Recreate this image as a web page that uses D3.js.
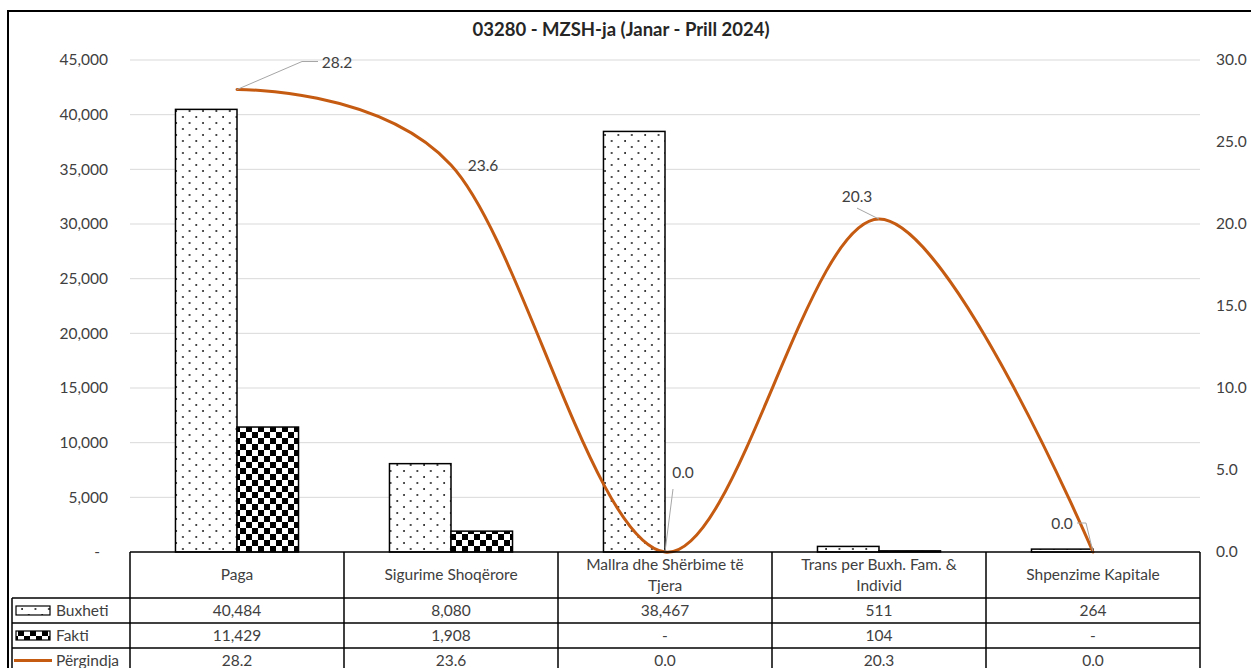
<!DOCTYPE html>
<html>
<head>
<meta charset="utf-8">
<script src="https://cdn.jsdelivr.net/npm/d3@7"></script>
<style>
  body { margin: 0; background: #fff; }
  svg { display: block; font-family: Lato, "Liberation Sans", sans-serif; }
</style>
</head>
<body>
<div id="chart"></div>
<script>
const categories = [
  ['Paga'],
  ['Sigurime Shoqërore'],
  ['Mallra dhe Shërbime të', 'Tjera'],
  ['Trans per Buxh. Fam. &', 'Individ'],
  ['Shpenzime Kapitale']
];
const buxheti = [40484, 8080, 38467, 511, 264];
const fakti = [11429, 1908, 0, 104, 0];
const pergindja = [28.2, 23.6, 0.0, 20.3, 0.0];
const leftTicks = [0, 5000, 10000, 15000, 20000, 25000, 30000, 35000, 40000, 45000];
const rightTicks = [0, 5, 10, 15, 20, 25, 30];
const seriesNames = ['Buxheti', 'Fakti', 'Përgindja'];

const width = 1251;
const height = 668;
const plotLeft = 130;
const plotRight = 1200;
const plotTop = 60;
const plotBottom = 552;
const textColor = '#404040';
const lineColor = '#C55A11';
const fontSize = 15.5;

const svg = d3.select('#chart')
  .append('svg')
    .attr('width', width)
    .attr('height', height);

// patterns
const defs = svg.append('defs');
const dots = defs.append('pattern')
    .attr('id', 'dots')
    .attr('patternUnits', 'userSpaceOnUse')
    .attr('width', 13.4)
    .attr('height', 12);
dots.append('rect').attr('width', 13.4).attr('height', 12).attr('fill', '#fff');
dots.append('circle').attr('cx', 2).attr('cy', 3).attr('r', 0.9).attr('fill', '#000');
dots.append('circle').attr('cx', 8.7).attr('cy', 9).attr('r', 0.9).attr('fill', '#000');

const checks = defs.append('pattern')
    .attr('id', 'checks')
    .attr('patternUnits', 'userSpaceOnUse')
    .attr('width', 12)
    .attr('height', 12);
checks.append('rect').attr('width', 12).attr('height', 12).attr('fill', '#fff');
checks.append('rect').attr('width', 6).attr('height', 6).attr('fill', '#000');
checks.append('rect').attr('x', 6).attr('y', 6).attr('width', 6).attr('height', 6).attr('fill', '#000');

const fills = { Buxheti: 'url(#dots)', Fakti: 'url(#checks)' };

// outer frame
svg.append('rect')
    .attr('x', 8)
    .attr('y', 11)
    .attr('width', 1260)
    .attr('height', 700)
    .attr('fill', 'none')
    .attr('stroke', '#000')
    .attr('stroke-width', 2);

// title
svg.append('text')
    .attr('x', 621)
    .attr('y', 36)
    .attr('text-anchor', 'middle')
    .attr('font-size', 18.5)
    .attr('font-weight', 'bold')
    .attr('fill', '#262626')
    .text('03280 - MZSH-ja (Janar - Prill 2024)');

const x = d3.scaleBand()
    .domain(d3.range(categories.length))
    .range([plotLeft, plotRight])
    .paddingInner(0.425)
    .paddingOuter(0.2125);

const xSub = d3.scaleBand()
    .domain(['Buxheti', 'Fakti'])
    .range([0, x.bandwidth()]);

const y = d3.scaleLinear()
    .domain([0, 45000])
    .range([plotBottom, plotTop]);

const y2 = d3.scaleLinear()
    .domain([0, 30])
    .range([plotBottom, plotTop]);

// gridlines
svg.append('g')
  .selectAll('line')
  .data(leftTicks.slice(1))
  .join('line')
    .attr('x1', plotLeft)
    .attr('x2', plotRight)
    .attr('y1', d => y(d))
    .attr('y2', d => y(d))
    .attr('stroke', '#d9d9d9')
    .attr('stroke-width', 1);

// left axis
const leftAxis = svg.append('g')
    .attr('transform', `translate(${plotLeft - 22}, 0)`)
    .call(d3.axisLeft(y)
      .tickValues(leftTicks)
      .tickSize(0)
      .tickPadding(0)
      .tickFormat(d => d === 0 ? '-' : d3.format(',')(d)));
leftAxis.select('.domain').remove();
leftAxis.selectAll('text')
    .attr('font-family', 'Lato, sans-serif')
    .attr('font-size', fontSize)
    .attr('fill', textColor)
    .attr('dx', d => d === 0 ? -8 : 0);

// right axis
const rightAxis = svg.append('g')
    .attr('transform', `translate(${plotRight + 16}, 0)`)
    .call(d3.axisRight(y2)
      .tickValues(rightTicks)
      .tickSize(0)
      .tickPadding(0)
      .tickFormat(d3.format('.1f')));
rightAxis.select('.domain').remove();
rightAxis.selectAll('text')
    .attr('font-family', 'Lato, sans-serif')
    .attr('font-size', fontSize)
    .attr('fill', textColor);

// bars
const barData = [];
categories.forEach((c, i) => {
  barData.push({ i, key: 'Buxheti', value: buxheti[i] });
  barData.push({ i, key: 'Fakti', value: fakti[i] });
});

svg.append('g')
  .selectAll('rect')
  .data(barData.filter(d => d.value > 0))
  .join('rect')
    .attr('x', d => x(d.i) + xSub(d.key))
    .attr('y', d => y(d.value))
    .attr('width', xSub.bandwidth())
    .attr('height', d => plotBottom - y(d.value))
    .attr('fill', d => fills[d.key])
    .attr('stroke', '#000')
    .attr('stroke-width', 1.5);

// line
const cx = i => x(i) + x.bandwidth() / 2;
const line = d3.line()
    .x((d, i) => cx(i))
    .y(d => y2(d))
    .curve(d3.curveCardinal.tension(0));

svg.append('path')
    .datum(pergindja)
    .attr('d', line)
    .attr('fill', 'none')
    .attr('stroke', lineColor)
    .attr('stroke-width', 3)
    .attr('stroke-linecap', 'round');

// data labels with leader lines (offsets relative to the point)
const labelOffsets = [
  { dx: 100, dy: -27, leader: [[0, 0], [65, -28], [81, -28]] },
  { dx: 32, dy: 1, leader: null },
  { dx: 18, dy: -79, leader: [[0, 0], [8, -63]] },
  { dx: -22, dy: -23, leader: [[0, 0], [-22, -11]] },
  { dx: -31, dy: -28, leader: [[0, 0], [-7, -29], [-16, -29]] }
];

const labels = svg.append('g');
pergindja.forEach((v, i) => {
  const px = cx(i);
  const py = y2(v);
  const o = labelOffsets[i];
  if (o.leader) {
    labels.append('path')
        .attr('d', d3.line()(o.leader.map(p => [px + p[0], py + p[1]])))
        .attr('fill', 'none')
        .attr('stroke', '#a6a6a6')
        .attr('stroke-width', 1);
  }
  labels.append('text')
      .attr('x', px + o.dx)
      .attr('y', py + o.dy)
      .attr('dy', '0.35em')
      .attr('text-anchor', 'middle')
      .attr('font-size', fontSize)
      .attr('fill', textColor)
      .text(d3.format('.1f')(v));
});

// data table
const tableLeft = 12;
const headerBottom = 598;
const rowH = 25;
const rowTops = [598, 623, 648];
const tableBottom = 700;
const colEdges = d3.range(categories.length + 1).map(i => plotLeft + i * x.step());

const table = svg.append('g')
    .attr('stroke', '#000')
    .attr('stroke-width', 1.5);

table.append('line')
    .attr('x1', plotLeft).attr('x2', plotRight)
    .attr('y1', plotBottom).attr('y2', plotBottom);
rowTops.forEach(t => {
  table.append('line')
      .attr('x1', tableLeft).attr('x2', plotRight)
      .attr('y1', t).attr('y2', t);
});
colEdges.forEach(cxe => {
  table.append('line')
      .attr('x1', cxe).attr('x2', cxe)
      .attr('y1', plotBottom).attr('y2', tableBottom);
});
table.append('line')
    .attr('x1', tableLeft).attr('x2', tableLeft)
    .attr('y1', headerBottom).attr('y2', tableBottom);

// header cells
const header = svg.append('g')
    .attr('font-size', fontSize)
    .attr('fill', textColor)
    .attr('text-anchor', 'middle');
categories.forEach((c, i) => {
  const t = header.append('text')
      .attr('x', cx(i))
      .attr('y', c.length === 1 ? 575 : 565)
      .attr('dy', '0.35em');
  c.forEach((ln, k) => {
    t.append('tspan')
        .attr('x', cx(i))
        .attr('dy', k === 0 ? '0.35em' : '1.35em')
        .text(ln);
  });
});

// row values
const fmtNum = v => v === 0 ? '-' : d3.format(',')(v);
const rows = [
  buxheti.map(fmtNum),
  fakti.map(fmtNum),
  pergindja.map(d3.format('.1f'))
];
const body = svg.append('g')
    .attr('font-size', fontSize)
    .attr('fill', textColor)
    .attr('text-anchor', 'middle');
rows.forEach((r, ri) => {
  r.forEach((v, i) => {
    body.append('text')
        .attr('x', cx(i))
        .attr('y', rowTops[ri] + rowH / 2)
        .attr('dy', '0.35em')
        .text(v);
  });
});

// legend keys in the row headers
const keys = svg.append('g');
seriesNames.forEach((s, ri) => {
  const mid = rowTops[ri] + rowH / 2;
  if (s === 'Përgindja') {
    keys.append('line')
        .attr('x1', 14).attr('x2', 52)
        .attr('y1', mid).attr('y2', mid)
        .attr('stroke', lineColor)
        .attr('stroke-width', 3);
  } else {
    keys.append('rect')
        .attr('x', 16).attr('y', mid - 4.5)
        .attr('width', 34).attr('height', 9)
        .attr('fill', fills[s])
        .attr('stroke', '#000')
        .attr('stroke-width', 1.2);
  }
  keys.append('text')
      .attr('x', 56)
      .attr('y', mid)
      .attr('dy', '0.35em')
      .attr('font-size', fontSize)
      .attr('fill', textColor)
      .text(s);
});
</script>
</body>
</html>
